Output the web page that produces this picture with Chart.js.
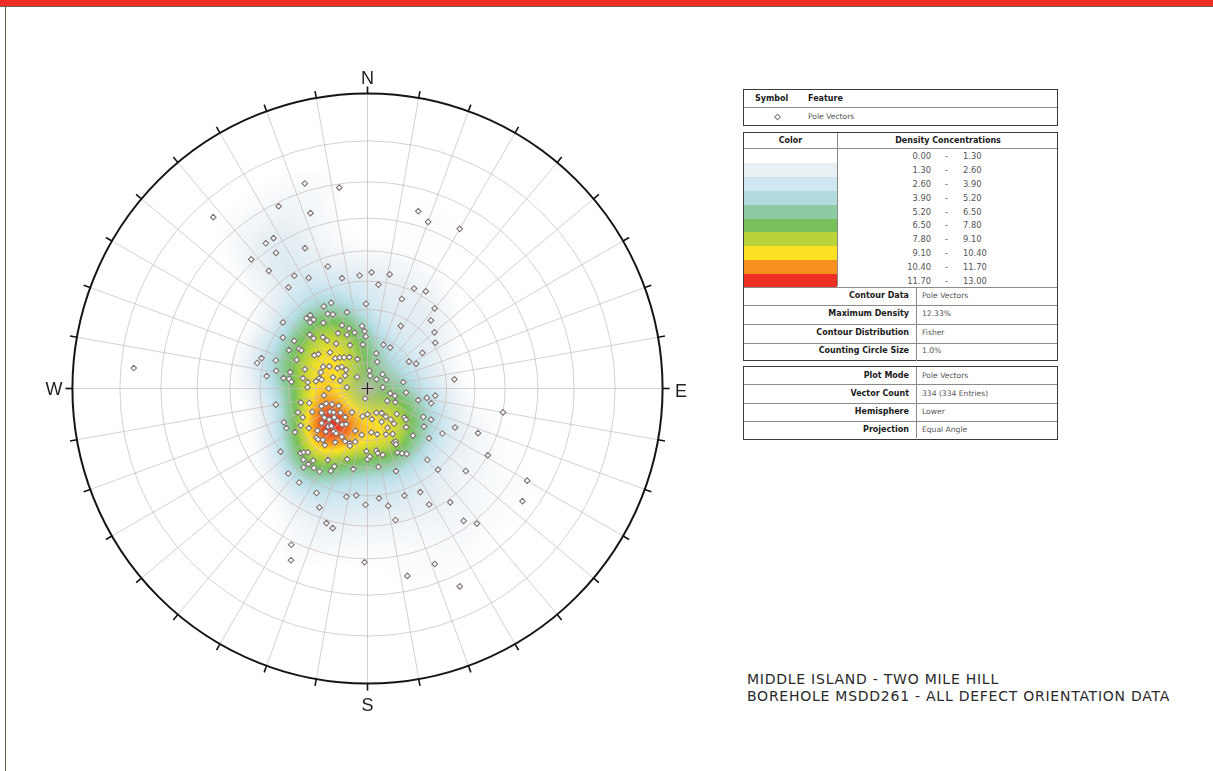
<!DOCTYPE html>
<html>
<head>
<meta charset="utf-8">
<script src="https://cdn.jsdelivr.net/npm/chart.js@4/dist/chart.umd.min.js"></script>
<style>
  html,body{margin:0;padding:0;background:#fff;}
  body{width:1213px;height:771px;overflow:hidden;position:relative;font-family:"DejaVu Sans",Verdana,sans-serif;}
  #topbar{position:absolute;left:0;top:0;width:1213px;height:6px;background:#ee2e24;border-bottom:1px solid #6d6352;}
  #leftline{position:absolute;left:5px;top:7px;width:1px;height:764px;background:#6d5a48;}
  #wrap{position:absolute;left:57px;top:78px;width:621px;height:621px;}
  .dir{position:absolute;font-family:"Liberation Sans",Arial,sans-serif;font-size:18px;color:#222;transform:translate(-50%,-50%);line-height:1;}
  .box{position:absolute;box-sizing:border-box;border:1.5px solid #3a3a3a;background:#fff;}
  .hl{position:absolute;left:0;right:0;height:0;border-top:1px solid #8a8a8a;}
  .vl{position:absolute;width:0;border-left:1px solid #8a8a8a;}
  .t{position:absolute;white-space:nowrap;line-height:1;transform:translateY(-50%);}
  .b{font-weight:bold;font-size:8px;color:#1a1a1a;}
  .v{font-size:7.6px;color:#555;}
  .n{font-size:8.3px;color:#555;}
  #title{position:absolute;left:747px;top:671px;font-size:14px;letter-spacing:0.75px;color:#2a2a2a;line-height:17px;white-space:nowrap;}
</style>
</head>
<body>
<div id="topbar"></div>
<div id="leftline"></div>
<div id="wrap"><canvas id="c" width="621" height="621"></canvas></div>

<div class="box" id="box1" style="left:743px;top:89px;width:315px;height:37px;"></div>
<div class="box" id="box2" style="left:743px;top:132px;width:315px;height:229px;"></div>
<div class="box" id="box3" style="left:743px;top:366px;width:315px;height:74px;"></div>
<div id="title">MIDDLE ISLAND - TWO MILE HILL<br>BOREHOLE MSDD261 - ALL DEFECT ORIENTATION DATA</div>

<script>
// ---------------- DATA ----------------
// Pole vectors read from the stereonet: trend (deg) and plunge (deg)
const poleTrend = [
343,352,334,342,318,16,20,30,328,325,
326,336,318,320,327,332,342,347,322,275,
6,25,21,359,337,332,332,335,345,322,
322,319,319,308,355,338,343,347,339,332,
357,358,28,43,50,56,301,313,313,319,
320,303,325,354,20,29,296,300,300,305,
302,314,57,14,20,283,286,287,292,313,
318,323,330,341,57,63,300,304,296,287,
289,310,311,281,277,277,277,275,279,276,
282,281,278,288,286,300,318,6,12,45,
47,65,80,84,282,271,270,261,273,193,
86,102,105,122,116,96,103,99,96,103,
260,258,256,251,246,247,249,250,246,239,
242,238,235,228,236,231,229,223,218,233,
226,224,215,211,213,190,180,172,160,150,
147,143,131,128,157,153,143,135,129,117,
116,124,248,244,239,241,236,230,226,224,
218,215,208,196,187,175,168,158,151,154,
152,136,129,121,114,112,234,226,225,223,
217,224,221,211,203,198,193,197,181,180,
178,172,171,167,155,152,149,153,140,222,
218,217,209,196,219,214,210,204,203,190,
172,161,130,326,338,
100,119,120,126,168,181,206,204,
223,216,206,202,197,194,191,186,181,174,
170,168,161,153,152,139,144,144,141,159,
155,356,2,11,31,40
];
const polePlunge = [
18,21,21,26,14,26,28,26,28,28,
32,35,29,35,41,44,43,48,43,13,
51,49,54,58,55,55,58,59,60,55,
57,55,57,50,66,64,66,68,68,66,
68,70,63,55,57,59,53,60,62,64,
66,57,69,73,72,72,57,60,61,67,
66,70,65,76,79,48,49,54,61,73,
74,75,76,78,71,69,73,76,71,65,
71,77,79,55,52,58,60,61,65,67,
71,72,70,76,79,80,84,83,85,85,
82,82,76,57,60,67,75,73,82,86,
84,81,79,81,78,75,70,67,64,65,
55,64,67,62,63,67,71,73,75,77,
70,73,74,76,70,71,73,73,76,68,
69,70,73,74,79,79,80,78,80,79,
77,75,75,72,76,73,73,69,71,66,
63,64,56,56,58,61,63,65,63,67,
69,69,69,73,72,73,72,71,70,67,
67,65,60,57,54,46,50,55,56,57,
63,63,64,66,68,68,69,67,66,63,
64,66,65,64,63,62,61,66,55,54,
54,56,59,62,52,54,54,56,58,59,
60,57,43,60,72,
40,40,26,24,24,29,29,25,
47,47,47,43,39,38,49,50,47,49,
46,41,48,47,42,50,39,32,29,25,
17,48,47,47,48,51
];
const densityFrom = [0.00,1.30,2.60,3.90,5.20,6.50,7.80,9.10,10.40,11.70];
const densityTo   = [1.30,2.60,3.90,5.20,6.50,7.80,9.10,10.40,11.70,13.00];
const densityColors = ['#ffffff','#e9f0f4','#cfe7f0','#b2dbe0','#8fcba2','#78c15a','#b9d43b','#fde024','#f6901f','#ec3024'];
const contourLabels = ['Contour Data','Maximum Density','Contour Distribution','Counting Circle Size'];
const contourValues = ['Pole Vectors','12.33%','Fisher','1.0%'];
const plotLabels = ['Plot Mode','Vector Count','Hemisphere','Projection'];
const plotValues = ['Pole Vectors','334 (334 Entries)','Lower','Equal Angle'];
const maxDensity = 12.33;
const fisherK = 50;
const gridPlunges = [10,20,30,40,50,60,70,80];
const gridTrendStep = 10;
const compassLabels = ['N','E','S','W'];

// ---------------- LEGEND ----------------
function el(parent, cls, style, text){
  const d=document.createElement('div'); d.className=cls; Object.assign(d.style,style);
  if(text!==undefined) d.textContent=text; parent.appendChild(d); return d;
}
(function buildLegend(){
  const b1=document.getElementById('box1');
  el(b1,'hl',{top:'17px'});
  el(b1,'t b',{left:'11px',top:'8.5px'},'Symbol');
  el(b1,'t b',{left:'64px',top:'8.5px'},'Feature');
  el(b1,'t',{left:'31px',top:'27px',width:'3px',height:'3px',border:'1px solid #8a7f80',transform:'translateY(-50%) rotate(45deg)'});
  el(b1,'t v',{left:'64px',top:'27px'},'Pole Vectors');

  const b2=document.getElementById('box2');
  el(b2,'t b',{left:'0px',width:'93px',textAlign:'center',top:'7.5px'},'Color');
  el(b2,'t b',{left:'94px',width:'220px',textAlign:'center',top:'7.5px'},'Density Concentrations');
  el(b2,'hl',{top:'15px'});
  el(b2,'vl',{left:'92.5px',top:'0px',height:'153px'});
  const rowH=13.8, y0=16.5;
  for(let i=0;i<densityFrom.length;i++){
    el(b2,'',{position:'absolute',left:'0px',width:'92.5px',top:(y0+i*rowH)+'px',height:(rowH+0.5)+'px',background:densityColors[i]});
    const cy=y0+i*rowH+rowH/2;
    el(b2,'t n',{left:'150px',width:'37px',textAlign:'right',top:cy+'px'},densityFrom[i].toFixed(2));
    el(b2,'t n',{left:'201px',top:cy+'px'},'-');
    el(b2,'t n',{left:'219px',top:cy+'px'},densityTo[i].toFixed(2));
  }
  const lines2=[153.5,171.5,190.5,209.5];
  lines2.forEach(y=>el(b2,'hl',{top:y+'px'}));
  el(b2,'vl',{left:'171.5px',top:'153.5px',height:'74px'});
  for(let i=0;i<contourLabels.length;i++){
    const cy=(i<3? (lines2[i]+lines2[i+1])/2 : (lines2[3]+226)/2);
    el(b2,'t b',{right:'148px',top:cy+'px'},contourLabels[i]);
    el(b2,'t v',{left:'178px',top:cy+'px'},contourValues[i]);
  }
  const b3=document.getElementById('box3');
  const lines3=[0,17,36,54,71];
  [17,36,54].forEach(y=>el(b3,'hl',{top:y+'px'}));
  el(b3,'vl',{left:'171.5px',top:'0px',height:'71px'});
  for(let i=0;i<plotLabels.length;i++){
    const cy=(lines3[i]+lines3[i+1])/2;
    el(b3,'t b',{right:'148px',top:cy+'px'},plotLabels[i]);
    el(b3,'t v',{left:'178px',top:cy+'px'},plotValues[i]);
  }
})();

// ---------------- STEREONET ----------------
const DEG=Math.PI/180;
function project(trend, plunge){ // equal-angle (stereographic), lower hemisphere
  const rho=Math.tan((90-plunge)/2*DEG);
  return {x:rho*Math.sin(trend*DEG), y:rho*Math.cos(trend*DEG)};
}
const poles = poleTrend.map((t,i)=>project(t, polePlunge[i]));
const poleVecs = poleTrend.map((t,i)=>{
  const tr=t*DEG, pr=polePlunge[i]*DEG;
  return [Math.cos(pr)*Math.sin(tr), Math.cos(pr)*Math.cos(tr), -Math.sin(pr)];
});

function hexToRgb(h){return [parseInt(h.substr(1,2),16),parseInt(h.substr(3,2),16),parseInt(h.substr(5,2),16)];}
const stops = densityFrom.map((f,i)=>[(f+densityTo[i])/2, hexToRgb(densityColors[i])]);
function colorFor(d){
  if(d<=stops[0][0]) return stops[0][1];
  for(let i=1;i<stops.length;i++){
    if(d<=stops[i][0]){
      const a=stops[i-1], b=stops[i], f=(d-a[0])/(b[0]-a[0]);
      return [a[1][0]+(b[1][0]-a[1][0])*f, a[1][1]+(b[1][1]-a[1][1])*f, a[1][2]+(b[1][2]-a[1][2])*f];
    }
  }
  return stops[stops.length-1][1];
}

const stereoPlugin = {
  id:'stereonet',
  beforeDatasetsDraw(chart){
    const ctx=chart.ctx, xs=chart.scales.x, ys=chart.scales.y;
    const cx=xs.getPixelForValue(0), cy=ys.getPixelForValue(0), R=xs.getPixelForValue(1)-cx;
    if(!chart.$densityCanvas){
      const K = fisherK, cut = 1-9/K;
      const W=chart.width, H=chart.height;
      const dens=new Float32Array(W*H); let maxD=0;
      const n=poleVecs.length;
      for(let py=0;py<H;py++){
        const ny=ys.getValueForPixel(py+0.5);
        for(let px=0;px<W;px++){
          const ex=xs.getValueForPixel(px+0.5);
          const r2=ex*ex+ny*ny; if(r2>1) continue;
          const rho=Math.sqrt(r2), phi=2*Math.atan(rho);
          const s=Math.sin(phi), c=Math.cos(phi);
          const vx= rho>0? s*ex/rho:0, vy= rho>0? s*ny/rho:0, vz=-c;
          let sum=0;
          for(let k=0;k<n;k++){
            const p=poleVecs[k]; let d=vx*p[0]+vy*p[1]+vz*p[2]; if(d<0)d=-d;
            if(d>cut) sum+=Math.exp(K*(d-1));
          }
          const val=sum/n; dens[py*W+px]=val; if(val>maxD)maxD=val;
        }
      }
      const scale = maxDensity/maxD;
      const off=document.createElement('canvas'); off.width=W; off.height=H;
      const octx=off.getContext('2d'); const img=octx.createImageData(W,H);
      for(let i=0;i<W*H;i++){
        const v=dens[i]*scale; if(v<0.65) continue;
        const col=colorFor(v);
        img.data[i*4]=col[0]; img.data[i*4+1]=col[1]; img.data[i*4+2]=col[2]; img.data[i*4+3]=255;
      }
      octx.putImageData(img,0,0);
      chart.$densityCanvas=off;
    }
    ctx.save();
    ctx.drawImage(chart.$densityCanvas,0,0);
    ctx.strokeStyle='rgba(200,186,186,0.7)'; ctx.lineWidth=1;
    gridPlunges.forEach(p=>{
      const r=Math.tan((90-p)/2*DEG);
      ctx.beginPath(); ctx.arc(cx,cy,xs.getPixelForValue(r)-cx,0,Math.PI*2); ctx.stroke();
    });
    for(let t=0;t<360;t+=gridTrendStep){
      const e=project(t,0);
      ctx.beginPath(); ctx.moveTo(cx,cy); ctx.lineTo(xs.getPixelForValue(e.x), ys.getPixelForValue(e.y)); ctx.stroke();
    }
    ctx.strokeStyle='#151515'; ctx.lineWidth=2;
    ctx.beginPath(); ctx.arc(cx,cy,R,0,Math.PI*2); ctx.stroke();
    ctx.lineWidth=1.6;
    for(let t=0;t<360;t+=gridTrendStep){
      const s=Math.sin(t*DEG), c=Math.cos(t*DEG);
      ctx.beginPath(); ctx.moveTo(cx+R*s, cy-R*c); ctx.lineTo(cx+(R+7)*s, cy-(R+7)*c); ctx.stroke();
    }
    ctx.restore();
  },
  afterDatasetsDraw(chart){
    const ctx=chart.ctx, xs=chart.scales.x, ys=chart.scales.y;
    const cx=xs.getPixelForValue(0), cy=ys.getPixelForValue(0);
    ctx.save(); ctx.strokeStyle='#222'; ctx.lineWidth=1.2;
    ctx.beginPath(); ctx.moveTo(cx-6,cy); ctx.lineTo(cx+6,cy); ctx.moveTo(cx,cy-6); ctx.lineTo(cx,cy+6); ctx.stroke();
    ctx.restore();
  }
};

const lim = 310.5/300;
const chart = new Chart(document.getElementById('c'), {
  type:'scatter',
  data:{datasets:[{
    label:'Pole Vectors',
    data:poles,
    pointStyle:'rectRot',
    pointRadius:2.8,
    pointBorderWidth:1.1,
    pointBorderColor:'#7d7273',
    pointBackgroundColor:'#ffffff'
  }]},
  options:{
    responsive:false, animation:false, events:[],
    layout:{padding:0},
    plugins:{legend:{display:false}, tooltip:{enabled:false}},
    scales:{
      x:{type:'linear',min:-lim,max:lim,display:false},
      y:{type:'linear',min:-lim,max:lim,display:false}
    }
  },
  plugins:[stereoPlugin]
});

(function(){
  const xs=chart.scales.x, ys=chart.scales.y;
  const cx=xs.getPixelForValue(0), cy=ys.getPixelForValue(0), R=xs.getPixelForValue(1)-cx;
  const offs=[[0,-R-15],[R+18.5,2],[0,R+21],[-R-18.5,0]];
  compassLabels.forEach((lab,i)=>{
    const d=document.createElement('div'); d.className='dir'; d.textContent=lab;
    d.style.left=(57+cx+offs[i][0])+'px'; d.style.top=(78+cy+offs[i][1])+'px';
    document.body.appendChild(d);
  });
})();
</script>
</body>
</html>
